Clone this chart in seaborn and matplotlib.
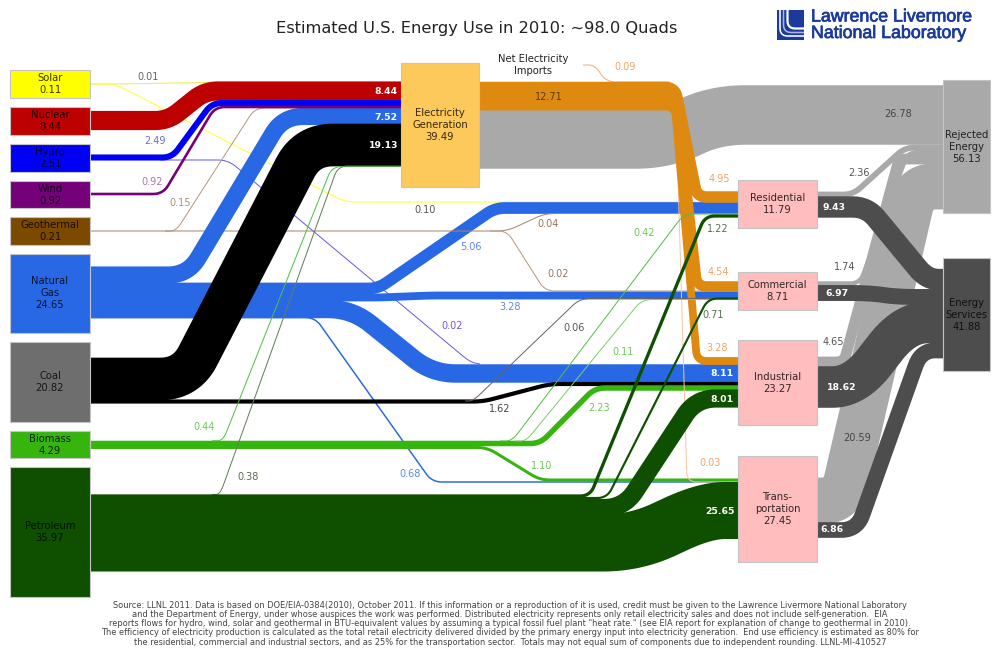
import matplotlib
matplotlib.use("Agg")
import matplotlib.patheffects as pe
import matplotlib.pyplot as plt
import numpy as np
import pandas as pd
import seaborn as sns
from matplotlib.patches import Rectangle

# quads
node_names = ["Solar", "Nuclear", "Hydro", "Wind", "Geothermal", "Natural\nGas", "Coal",
              "Biomass", "Petroleum", "Electricity\nGeneration", "Residential", "Commercial",
              "Industrial", "Trans-\nportation", "Rejected\nEnergy", "Energy\nServices"]
node_values = [0.11, 8.44, 2.51, 0.92, 0.21, 24.65, 20.82, 4.29, 35.97, 39.49, 11.79, 8.71,
               23.27, 27.45, 56.13, 41.88]

# flow names in drawing order, back to front
flow_names = ["elec_rej", "trans_rej", "ind_rej", "com_rej", "res_rej",
              "trans_srv", "ind_srv", "com_srv", "res_srv",
              "solar_elec", "solar_res", "hydro_ind", "gas_trans",
              "gas_res", "geo_elec", "geo_res", "geo_com", "gas_com", "gas_ind",
              "gas_elec", "coal_elec", "nuc_elec", "hydro_elec", "wind_elec",
              "coal_ind", "bio_ind", "bio_trans",
              "imports", "elec_trans", "elec_ind", "elec_com", "elec_res",
              "coal_com", "bio_elec", "bio_res", "bio_com", "pet_elec",
              "pet_res", "pet_com", "pet_ind", "pet_trans"]
flow_values = [26.78, 20.59, 4.65, 1.74, 2.36,
               6.86, 18.62, 6.97, 9.43,
               0.01, 0.10, 0.02, 0.68,
               5.06, 0.15, 0.04, 0.02, 3.28, 8.11,
               7.52, 19.13, 8.44, 2.49, 0.92,
               1.62, 2.23, 1.10,
               0.09, 0.03, 3.28, 4.54, 4.95,
               0.06, 0.44, 0.42, 0.11, 0.38,
               1.22, 0.71, 8.01, 25.65]

title = "Estimated U.S. Energy Use in 2010: ~98.0 Quads"
imports_label = "Net Electricity\nImports"
logo_lines = ["Lawrence Livermore", "National Laboratory"]
source_note = [
    "Source: LLNL 2011. Data is based on DOE/EIA-0384(2010), October 2011. If this information or a reproduction of it is used, credit must be given to the Lawrence Livermore National Laboratory",
    "and the Department of Energy, under whose auspices the work was performed. Distributed electricity represents only retail electricity sales and does not include self-generation.  EIA",
    "reports flows for hydro, wind, solar and geothermal in BTU-equivalent values by assuming a typical fossil fuel plant \"heat rate.\" (see EIA report for explanation of change to geothermal in 2010).",
    "The efficiency of electricity production is calculated as the total retail electricity delivered divided by the primary energy input into electricity generation.  End use efficiency is estimated as 80% for",
    "the residential, commercial and industrial sectors, and as 25% for the transportation sector.  Totals may not equal sum of components due to independent rounding. LLNL-MI-410527",
]

# layout, in pixels of the 1000x667 image
node_boxes = {
    "Solar": (10, 70, 90, 98), "Nuclear": (10, 107, 90, 135), "Hydro": (10, 144, 90, 172),
    "Wind": (10, 181, 90, 208), "Geothermal": (10, 217, 90, 245), "Natural\nGas": (10, 254, 90, 333),
    "Coal": (10, 342, 90, 422), "Biomass": (10, 431, 90, 458), "Petroleum": (10, 467, 90, 597),
    "Electricity\nGeneration": (401, 63, 479, 187), "Residential": (738, 180, 817, 228),
    "Commercial": (738, 272, 817, 310), "Industrial": (738, 340, 817, 425),
    "Trans-\nportation": (738, 456, 817, 562), "Rejected\nEnergy": (943, 80, 990, 213),
    "Energy\nServices": (943, 258, 990, 371),
}
node_colors = {
    "Solar": "#ffff00", "Nuclear": "#bd0000", "Hydro": "#0000f5", "Wind": "#74007a",
    "Geothermal": "#7b4a00", "Natural\nGas": "#2968e5", "Coal": "#6e6e6e", "Biomass": "#37b50f",
    "Petroleum": "#0f4f00", "Electricity\nGeneration": "#fdc95a", "Residential": "#ffbdbd",
    "Commercial": "#ffbdbd", "Industrial": "#ffbdbd", "Trans-\nportation": "#ffbdbd",
    "Rejected\nEnergy": "#a9a9a9", "Energy\nServices": "#4d4d4d",
}
routes = {
    "elec_rej": [(470, 139), (665, 139), (715, 115), (950, 115)],
    "trans_rej": [(810, 500.5), (842, 500.5), (915, 186.5), (950, 186.5)],
    "ind_rej": [(810, 362), (844, 362), (899, 159), (950, 159)],
    "com_rej": [(810, 283.5), (860, 283.5), (908, 152), (950, 152)],
    "res_rej": [(810, 194.5), (853, 194.5), (905, 147.5), (950, 147.5)],
    "trans_srv": [(810, 530), (857, 530), (921, 350.5), (950, 350.5)],
    "ind_srv": [(810, 387), (855, 387), (905, 322.5), (950, 322.5)],
    "com_srv": [(810, 293), (870, 293), (897, 297), (950, 297)],
    "res_srv": [(810, 207), (867, 207), (927, 279.5), (950, 279.5)],
    "solar_elec": [(85, 84), (115, 84), (205, 82.5), (405, 82.5)],
    "solar_res": [(85, 84), (115, 84), (345, 202), (745, 202)],
    "hydro_ind": [(160, 160), (228, 160), (470, 362), (480, 364)],
    "gas_trans": [(85, 317.5), (315, 317.5), (432, 482), (745, 482)],
    "gas_res": [(85, 288.5), (378, 288.5), (495, 208), (745, 208)],
    "geo_res": [(85, 231), (507, 231), (545, 213.5), (745, 213.5)],
    "geo_com": [(490, 231), (507, 231), (545, 291), (745, 291)],
    "geo_elec": [(165, 231), (176, 231), (255, 108), (405, 108)],
    "gas_com": [(85, 297.5), (380, 297.5), (430, 295.5), (745, 295.5)],
    "gas_ind": [(85, 309), (352, 309), (432, 373.5), (745, 373.5)],
    "gas_elec": [(85, 275), (188, 275), (283, 116.5), (405, 116.5)],
    "coal_elec": [(85, 379), (186, 379), (307, 145), (405, 145)],
    "nuc_elec": [(85, 120.5), (168, 120.5), (205, 91), (405, 91)],
    "hydro_elec": [(85, 157.5), (172, 157.5), (212, 103), (405, 103)],
    "wind_elec": [(85, 194), (163, 194), (215, 107), (405, 107)],
    "coal_ind": [(85, 401.5), (483, 401.5), (550, 384), (745, 384)],
    "bio_ind": [(85, 443.5), (540, 443.5), (595, 388), (745, 388)],
    "bio_trans": [(85, 447.5), (487, 447.5), (540, 480), (745, 480)],
    "imports": [(583, 65), (595, 65), (606, 82), (670, 82)],
    "elec_trans": [(470, 109.5), (676, 109.5), (687, 482), (745, 482)],
    "elec_ind": [(470, 106.6), (675, 106.6), (697, 361), (745, 361)],
    "elec_com": [(470, 98), (676, 98), (697, 286.5), (745, 286.5)],
    "elec_res": [(470, 87.5), (675, 87.5), (697, 197), (745, 197)],
    "coal_com": [(465, 401), (473, 401), (580, 298.5), (745, 298.5)],
    "bio_elec": [(212, 440.8), (223, 440.8), (332, 166.5), (405, 166.5)],
    "bio_res": [(500, 441), (512, 441), (684, 214), (745, 214)],
    "bio_com": [(515, 441), (526, 441), (642, 299.5), (745, 299.5)],
    "pet_elec": [(212, 494.5), (220, 494.5), (338, 166), (405, 166)],
    "pet_res": [(85, 496), (590, 496), (705, 216), (745, 216)],
    "pet_com": [(85, 498), (607, 498), (708, 298.5), (745, 298.5)],
    "pet_ind": [(85, 508), (624, 508), (696, 398.5), (745, 398.5)],
    "pet_trans": [(85, 543), (635, 543), (705, 510.5), (745, 510.5)],
}
flow_colors = {
    "elec_rej": "#a9a9a9", "trans_rej": "#a9a9a9", "ind_rej": "#a9a9a9", "com_rej": "#a9a9a9",
    "res_rej": "#a9a9a9", "trans_srv": "#4d4d4d", "ind_srv": "#4d4d4d", "com_srv": "#4d4d4d",
    "res_srv": "#4d4d4d", "solar_elec": "#f5e94a", "solar_res": "#ffff30", "hydro_ind": "#6a5ae8",
    "gas_trans": "#2968e5", "gas_res": "#2968e5", "geo_res": "#a88468", "geo_com": "#b59a80",
    "geo_elec": "#b59a80", "gas_com": "#2968e5", "gas_ind": "#2968e5", "gas_elec": "#2968e5",
    "coal_elec": "#000000", "nuc_elec": "#bd0000", "hydro_elec": "#0000f5", "wind_elec": "#74007a",
    "coal_ind": "#000000", "bio_ind": "#37b50f", "bio_trans": "#37b50f", "imports": "#f0b07a",
    "elec_trans": "#f5c8a0", "elec_ind": "#de890f", "elec_com": "#de890f", "elec_res": "#de890f",
    "coal_com": "#666666", "bio_elec": "#55bd4a", "bio_res": "#55bd4a", "bio_com": "#80cc70",
    "pet_elec": "#5f7f58", "pet_res": "#0f4f00", "pet_com": "#0f4f00", "pet_ind": "#0f4f00",
    "pet_trans": "#0f4f00",
}
corner_radius = {"elec_rej": 30, "trans_rej": 22, "ind_srv": 32, "trans_srv": 16, "com_srv": 22,
                 "pet_trans": 32, "coal_elec": 26, "gas_ind": 24, "pet_ind": 20, "gas_elec": 20,
                 "ind_rej": 8}
# label position and colour for each flow value
flow_labels = {
    "elec_rej": (898, 114, "#444444"), "trans_rej": (857, 438, "#444444"), "ind_rej": (833, 342, "#555555"),
    "com_rej": (845, 267, "#555555"), "res_rej": (859, 173, "#555555"), "trans_srv": (832, 530, "white"),
    "ind_srv": (842, 387, "white"), "com_srv": (837, 293, "white"), "res_srv": (834, 208, "white"),
    "solar_elec": (148, 77, "#666666"), "solar_res": (425, 210, "#555555"), "hydro_ind": (452, 326, "#6a5ae8"),
    "gas_trans": (410, 474, "#5b85ee"), "gas_res": (471, 247, "#5b85ee"), "geo_res": (548, 224, "#97745a"),
    "geo_com": (558, 274, "#97745a"), "geo_elec": (180, 203, "#a88f78"), "gas_com": (510, 307, "#5b85ee"),
    "gas_ind": (722, 374, "white"), "gas_elec": (386, 117, "white"), "coal_elec": (384, 146, "white"),
    "nuc_elec": (386, 92, "white"), "hydro_elec": (155, 141, "#6a6af5"), "wind_elec": (152, 182, "#a878a8"),
    "coal_ind": (500, 409, "#444444"), "bio_ind": (599, 408, "#6cc85a"), "bio_trans": (542, 466, "#6cc85a"),
    "imports": (625, 67, "#eda56a"), "elec_trans": (710, 463, "#eda56a"), "elec_ind": (717, 348, "#eda56a"),
    "elec_com": (718, 272, "#eda56a"), "elec_res": (719, 179, "#eda56a"), "coal_com": (574, 328, "#555555"),
    "bio_elec": (204, 427, "#6cc85a"), "bio_res": (644, 233, "#6cc85a"), "bio_com": (623, 352, "#6cc85a"),
    "pet_elec": (248, 477, "#55704f"), "pet_res": (718, 229, "#55704f"), "pet_com": (713, 315, "#55704f"),
    "pet_ind": (722, 399.5, "white"), "pet_trans": (720, 512, "white"),
}
elec_total = 12.71
PX_PER_QUAD = 2.2
PT_PER_PX = 0.72


def rounded(points, radius):
    # replace inner corners with quadratic curves
    pts = np.array(points, dtype=float)
    out = [pts[0]]
    t = np.linspace(0, 1, 24)[:, None]
    for i in range(1, len(pts) - 1):
        a, b, c = pts[i - 1], pts[i], pts[i + 1]
        r1 = min(radius, np.linalg.norm(b - a) * 0.5)
        r2 = min(radius, np.linalg.norm(c - b) * 0.5)
        p0 = b + (a - b) / np.linalg.norm(a - b) * r1
        p2 = b + (c - b) / np.linalg.norm(c - b) * r2
        out.extend((1 - t) ** 2 * p0 + 2 * t * (1 - t) * b + t ** 2 * p2)
    out.append(pts[-1])
    return np.array(out)


sns.set_theme(style="white")
plt.rcParams["font.family"] = ["DejaVu Sans"]

fig = plt.figure(figsize=(10, 6.67), dpi=100)
ax = fig.add_axes([0, 0, 1, 1])
ax.set_xlim(0, 1000)
ax.set_ylim(667, 0)
ax.axis("off")


def draw_line(xs, ys, color, width_px):
    sns.lineplot(x=xs, y=ys, sort=False, estimator=None, errorbar=None, color=color,
                 linewidth=width_px * PT_PER_PX, solid_capstyle="butt",
                 solid_joinstyle="round", ax=ax, legend=False)


for name, value in zip(flow_names, flow_values):
    width = max(1.0, value * PX_PER_QUAD)
    radius = corner_radius.get(name, max(10, width * 0.7))
    # a little overlap so neighbouring bands show no seam
    if width > 1.5:
        width += 0.6
    path = pd.DataFrame(rounded(routes[name], radius), columns=["x", "y"])
    draw_line(path["x"], path["y"], flow_colors[name], width)

for name, value in zip(node_names, node_values):
    x0, y0, x1, y1 = node_boxes[name]
    ax.add_patch(Rectangle((x0, y0), x1 - x0, y1 - y0, facecolor=node_colors[name],
                           edgecolor="#c4c4c4", linewidth=0.8, zorder=5))
    ax.text((x0 + x1) / 2, (y0 + y1) / 2, f"{name}\n{value:.2f}", ha="center", va="center",
            fontsize=7.2, color="black", alpha=0.8, linespacing=1.25, zorder=6)

for name, value in zip(flow_names, flow_values):
    x, y, color = flow_labels[name]
    bold = color == "white"
    ax.text(x, y, f"{value:.2f}", ha="center", va="center", fontsize=6.7 if bold else 7.0,
            color=color, fontweight="bold" if bold else "normal", zorder=7)

ax.text(549, 97, f"{elec_total:.2f}", ha="center", va="center", fontsize=7.0, color="#5a3a0a", zorder=7)
ax.text(533, 65.5, imports_label, ha="center", va="center", fontsize=7.2, color="#222222", linespacing=1.25)
ax.text(476.5, 29, title, ha="center", va="center", fontsize=11.7, color="#222222")
for i, line in enumerate(source_note):
    ax.text(510, 605 + i * 9.3, line, ha="center", va="center", fontsize=5.97, color="#444444")

# logo
logo_blue = "#1a3a9c"
ax.add_patch(Rectangle((777, 10), 27, 30, facecolor=logo_blue, edgecolor="none"))
for offset, color, w in [(780, "white", 1.6), (783.5, "#aab4dc", 1.6), (787.5, "white", 2.2)]:
    mark = rounded([(offset, 10), (offset, 28 + (788 - offset)), (804, 28 + (788 - offset))], 8)
    draw_line(mark[:, 0], mark[:, 1], color, w)
for i, line in enumerate(logo_lines):
    ax.text(811, 17 + i * 16.5, line, ha="left", va="center", fontsize=12.8, color=logo_blue,
            family="Liberation Sans",
            path_effects=[pe.withStroke(linewidth=0.5, foreground=logo_blue)])

fig.savefig("out.png", dpi=100, facecolor="white")
